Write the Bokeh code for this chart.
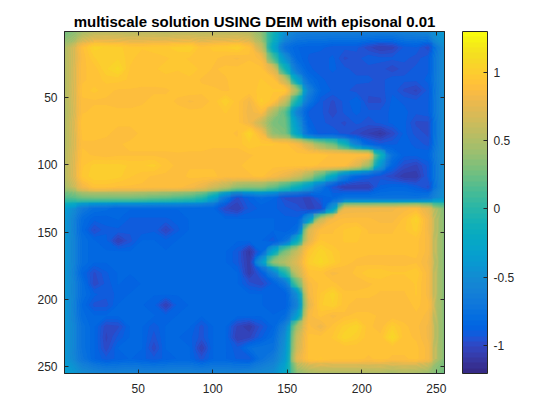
from bokeh.plotting import figure
from bokeh.models import LinearColorMapper, ColorBar, FixedTicker, LinearAxis, Range1d
from bokeh.embed import file_html
from bokeh.resources import INLINE
import numpy as np

TITLE = "multiscale solution USING DEIM with episonal 0.01"
XTICKS = [50, 100, 150, 200, 250]
YTICKS = [50, 100, 150, 200, 250]
CTICKS = [-1, -0.5, 0, 0.5, 1]
CLIM = (-1.205, 1.298)
PARULA = [
 (0.2081,0.1663,0.5292),(0.2116,0.1898,0.5777),(0.2123,0.2138,0.6270),(0.2081,0.2386,0.6771),
 (0.1959,0.2645,0.7279),(0.1707,0.2919,0.7792),(0.1253,0.3242,0.8303),(0.0591,0.3598,0.8683),
 (0.0117,0.3875,0.8820),(0.0060,0.4086,0.8828),(0.0165,0.4266,0.8786),(0.0329,0.4430,0.8720),
 (0.0498,0.4586,0.8641),(0.0629,0.4737,0.8554),(0.0723,0.4887,0.8467),(0.0779,0.5040,0.8384),
 (0.0793,0.5200,0.8312),(0.0749,0.5375,0.8263),(0.0641,0.5570,0.8240),(0.0488,0.5772,0.8228),
 (0.0343,0.5966,0.8199),(0.0265,0.6137,0.8135),(0.0239,0.6287,0.8038),(0.0231,0.6418,0.7913),
 (0.0228,0.6535,0.7768),(0.0267,0.6642,0.7607),(0.0384,0.6743,0.7436),(0.0590,0.6838,0.7254),
 (0.0843,0.6928,0.7062),(0.1133,0.7015,0.6859),(0.1453,0.7098,0.6646),(0.1801,0.7177,0.6424),
 (0.2178,0.7250,0.6193),(0.2586,0.7317,0.5954),(0.3022,0.7376,0.5712),(0.3482,0.7424,0.5473),
 (0.3953,0.7459,0.5244),(0.4420,0.7481,0.5033),(0.4871,0.7491,0.4840),(0.5300,0.7491,0.4661),
 (0.5709,0.7485,0.4494),(0.6099,0.7473,0.4337),(0.6473,0.7456,0.4188),(0.6834,0.7435,0.4044),
 (0.7184,0.7411,0.3905),(0.7525,0.7384,0.3768),(0.7858,0.7356,0.3633),(0.8185,0.7327,0.3498),
 (0.8507,0.7299,0.3360),(0.8824,0.7274,0.3217),(0.9139,0.7258,0.3063),(0.9450,0.7261,0.2886),
 (0.9739,0.7314,0.2666),(0.9938,0.7455,0.2403),(0.9990,0.7653,0.2164),(0.9955,0.7861,0.1967),
 (0.9880,0.8066,0.1794),(0.9789,0.8271,0.1633),(0.9697,0.8481,0.1475),(0.9626,0.8705,0.1309),
 (0.9589,0.8949,0.1132),(0.9598,0.9218,0.0948),(0.9661,0.9514,0.0755),(0.9763,0.9831,0.0538)]

# solution values, in hundredths; rows run down from the top
SOLUTION = [
[25,45,52,54,54,52,54,54,52,54,54,54,54,54,54,52,35,-8,-45,-60,-62,-62,-62,-62,-62,-62,-62,-62,-60,-58,-54,-38],
[48,90,104,102,100,96,95,97,98,100,102,92,96,98,102,92,60,-25,-75,-85,-88,-88,-92,-92,-92,-100,-105,-103,-92,-90,-100,-48],
[50,88,98,102,102,96,92,92,94,96,94,92,92,88,86,90,85,15,-45,-82,-90,-92,-88,-98,-95,-90,-92,-92,-92,-95,-90,-48],
[50,90,92,102,108,94,92,94,96,95,96,94,90,92,92,94,92,72,-10,-70,-88,-92,-88,-92,-95,-95,-95,-100,-95,-92,-90,-48],
[50,90,92,96,96,94,92,92,93,92,94,90,88,90,94,92,95,92,60,-30,-78,-88,-92,-90,-92,-92,-95,-90,-92,-92,-88,-48],
[50,92,96,92,90,90,90,90,90,92,94,92,92,90,92,94,95,95,96,45,-60,-85,-90,-92,-95,-96,-95,-90,-98,-102,-92,-48],
[50,90,90,90,88,88,90,92,92,90,86,88,92,102,92,82,100,92,60,-10,-72,-92,-98,-92,-85,-98,-98,-88,-90,-92,-90,-48],
[48,90,92,92,92,92,92,92,92,92,92,92,92,95,92,80,88,50,20,-60,-90,-92,-100,-92,-88,-92,-92,-88,-88,-92,-90,-48],
[50,94,94,92,92,92,92,92,92,92,92,92,92,92,92,82,60,30,25,-40,-88,-92,-95,-98,-92,-95,-92,-88,-88,-98,-98,-48],
[50,92,92,92,88,88,92,92,93,92,92,92,92,92,90,105,85,38,30,-30,-80,-92,-90,-95,-100,-105,-110,-100,-88,-95,-98,-48],
[50,90,90,88,90,92,92,92,92,93,92,92,92,92,92,98,95,95,92,85,65,40,25,-10,-60,-85,-92,-90,-88,-90,-95,-48],
[52,92,90,88,90,90,90,90,90,90,90,90,88,88,88,90,92,92,92,92,92,92,90,90,90,88,-10,-75,-88,-88,-85,-48],
[52,94,100,100,100,98,98,100,92,90,90,90,90,90,90,92,92,92,92,92,92,90,90,88,72,45,-40,-85,-98,-102,-92,-48],
[52,95,102,102,100,95,92,90,90,88,92,92,92,88,88,90,92,85,78,65,45,15,-25,-65,-85,-90,-95,-100,-108,-108,-92,-48],
[45,82,92,92,90,90,90,88,88,88,85,78,65,55,38,35,35,22,5,-15,-40,-70,-95,-105,-105,-105,-88,-85,-85,-90,-98,-48],
[15,25,28,28,28,28,25,22,20,15,10,0,-30,-70,-98,-88,-80,-85,-98,-100,-102,-90,-85,-75,-75,-75,-75,-75,-75,-75,-70,-45],
[-35,-68,-78,-80,-85,-85,-85,-85,-85,-85,-85,-85,-85,-100,-105,-92,-88,-88,-92,-95,-102,-100,-40,78,80,80,82,82,85,88,75,30],
[-40,-80,-88,-88,-85,-90,-90,-90,-90,-88,-85,-85,-85,-85,-85,-85,-85,-85,-88,-88,-40,62,85,88,88,88,85,85,92,104,82,32],
[-40,-82,-98,-90,-90,-92,-92,-90,-102,-90,-85,-85,-85,-85,-85,-85,-85,-85,-88,-80,70,88,90,95,98,90,90,90,94,100,82,32],
[-40,-78,-85,-88,-105,-95,-85,-85,-88,-85,-85,-85,-85,-85,-85,-85,-85,-92,-75,-20,75,95,92,95,95,92,92,92,92,92,85,32],
[-40,-78,-85,-85,-85,-85,-85,-85,-85,-85,-85,-85,-85,-85,-92,-110,-85,-25,30,60,95,105,98,92,92,92,92,92,92,92,85,32],
[-40,-78,-85,-85,-85,-85,-85,-85,-85,-85,-85,-85,-85,-85,-92,-108,-40,38,52,72,100,108,100,92,90,88,88,88,88,90,82,32],
[-40,-85,-98,-90,-85,-85,-85,-85,-85,-85,-85,-85,-85,-85,-85,-108,-90,-60,-5,60,92,92,85,88,92,98,98,95,95,98,85,32],
[-40,-78,-100,-92,-85,-88,-85,-85,-85,-85,-85,-85,-85,-85,-85,-95,-100,-88,-70,20,85,92,92,88,88,90,92,92,92,95,85,32],
[-40,-78,-88,-92,-88,-85,-85,-85,-85,-85,-85,-85,-85,-85,-85,-85,-85,-88,-88,-50,82,95,105,92,92,92,90,90,90,95,85,32],
[-40,-82,-95,-95,-85,-85,-85,-88,-105,-88,-85,-85,-85,-85,-85,-85,-85,-88,-88,-60,75,98,102,92,88,88,88,88,88,92,88,32],
[-40,-80,-85,-85,-85,-85,-85,-85,-88,-85,-85,-85,-85,-85,-85,-85,-85,-85,-80,-35,85,92,85,90,92,92,90,88,88,90,85,32],
[-40,-75,-85,-100,-98,-85,-85,-92,-85,-85,-85,-95,-85,-85,-102,-108,-95,-85,-60,45,88,80,92,100,105,92,88,100,92,88,82,32],
[-40,-75,-85,-102,-92,-85,-85,-95,-85,-85,-88,-95,-85,-85,-105,-102,-90,-80,-50,60,92,92,95,105,100,92,92,108,92,90,82,32],
[-40,-75,-85,-100,-85,-85,-85,-100,-85,-85,-85,-105,-85,-85,-92,-78,-75,-75,-45,65,92,92,92,92,92,92,92,92,92,92,85,32],
[-40,-72,-85,-92,-88,-85,-88,-92,-88,-85,-85,-95,-85,-85,-90,-92,-75,-65,-40,75,92,95,92,92,92,90,92,90,90,92,85,32],
[-32,-50,-55,-58,-58,-58,-58,-58,-58,-58,-58,-58,-58,-58,-58,-55,-52,-48,-25,35,45,48,48,48,48,48,48,45,48,45,40,25],
]

palette = ["#%02x%02x%02x" % tuple(int(round(c * 255)) for c in rgb) for rgb in PARULA]
mapper = LinearColorMapper(palette=palette, low=CLIM[0], high=CLIM[1])
Z = np.array(SOLUTION, dtype=float) / 100.0

INK = "#262626"
# the y axis runs downward: row r is stored at -r, so the glyphs keep a positive height
p = figure(width=552, height=404, frame_width=380, frame_height=342,
           x_range=Range1d(0.5, 255.5), y_range=Range1d(-255.5, -0.5),
           output_backend="svg", toolbar_location=None, tools="",
           min_border_left=64, min_border_top=31, min_border_right=0, min_border_bottom=0,
           title=TITLE)
p.title.align = "center"
p.title.text_font = "Liberation Sans"
p.title.text_font_size = "15px"
p.title.text_font_style = "bold"
p.title.text_color = "#000000"
p.title.standoff = 3
p.grid.visible = False
p.outline_line_color = INK
p.outline_line_width = 1

# grid nodes sit at the cell centres; the outer nodes reach the frame
nodes = np.arange(4.5, 256, 8.0)
nodes[0], nodes[-1] = 0.5, 255.5
levels = np.linspace(CLIM[0], CLIM[1], len(palette) + 1)

p.image(image=[Z[::-1]], x=0.5, y=-255.5, dw=255, dh=255, color_mapper=mapper)
p.contour(nodes, -nodes[::-1], Z[::-1], levels, fill_color=palette, line_color=None)

p.xaxis[0].ticker = FixedTicker(ticks=XTICKS)
p.yaxis[0].ticker = FixedTicker(ticks=[-t for t in YTICKS])
p.yaxis[0].major_label_overrides = {-t: str(t) for t in YTICKS}
for ax in (p.xaxis[0], p.yaxis[0]):
    ax.major_label_text_font = "Liberation Sans"
    ax.major_label_text_font_size = "12px"
    ax.major_label_text_color = INK
    ax.axis_line_color = INK
    ax.major_tick_line_color = INK
    ax.major_tick_in = 4
    ax.major_tick_out = 0
    ax.minor_tick_line_color = None
p.xaxis[0].major_label_standoff = 10
p.yaxis[0].major_label_standoff = 7

for side, ticks in (("above", XTICKS), ("right", [-t for t in YTICKS])):
    ax = LinearAxis(ticker=FixedTicker(ticks=ticks), major_tick_in=4, major_tick_out=0,
                    major_tick_line_color=INK, axis_line_color=INK, minor_tick_line_color=None,
                    major_label_overrides={t: "" for t in ticks}, major_label_standoff=0)
    p.add_layout(ax, side)

cb = ColorBar(color_mapper=mapper, ticker=FixedTicker(ticks=CTICKS), width=25, height=342,
              location=(18, 0), major_tick_in=4, major_tick_out=0, major_tick_line_color=INK,
              minor_tick_line_color=None, bar_line_color=INK, bar_line_width=1,
              major_label_overrides={t: str(t) for t in CTICKS},
              major_label_text_font="Liberation Sans", major_label_text_font_size="12px",
              major_label_text_color=INK, label_standoff=6, padding=0,
              background_fill_alpha=0, border_line_color=None)
p.add_layout(cb, "right")

open("out.html", "w").write(file_html(p, INLINE))
